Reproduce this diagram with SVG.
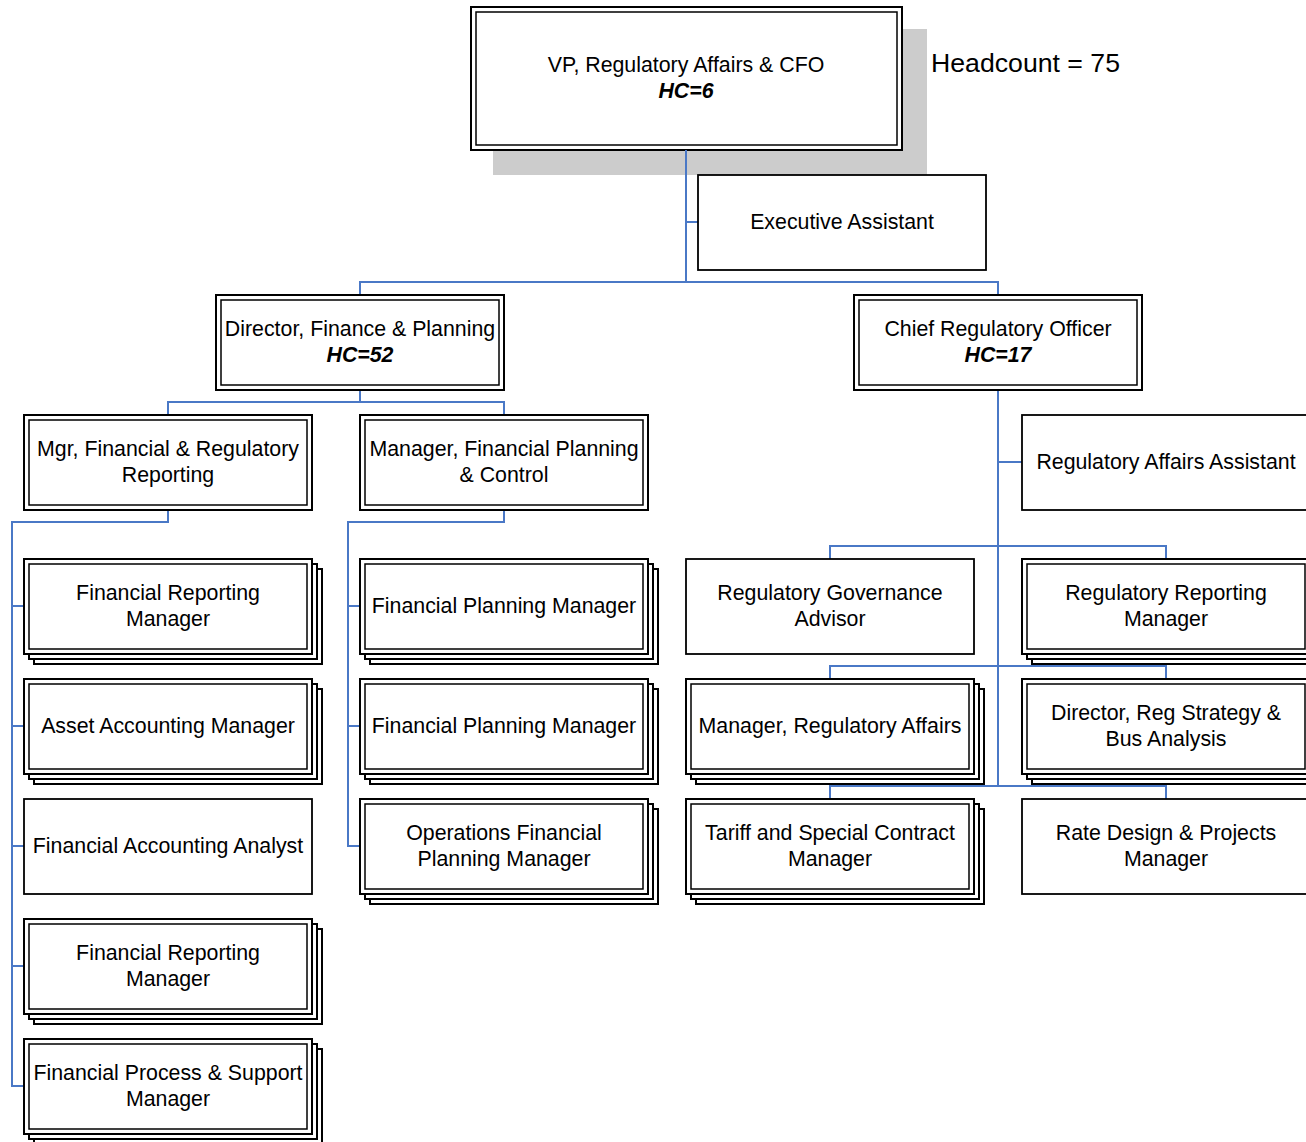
<svg xmlns="http://www.w3.org/2000/svg" xmlns:xlink="http://www.w3.org/1999/xlink" width="1306" height="1142" viewBox="0 0 1306 1142">
  <style>
    .bg { fill: #ffffff; }
    .box { fill: #ffffff; stroke: #000000; stroke-width: 2; }
    .inner { fill: none; stroke: #000000; stroke-width: 1.5; }
    .single { fill: #ffffff; stroke: #000000; stroke-width: 1.8; }
    .shadow { fill: #cccccc; }
    .ln { fill: none; stroke: #4a78c6; stroke-width: 2; }
    text { font-family: "Liberation Sans", Arial, sans-serif; font-size: 21.33px; fill: #000000; text-anchor: middle; }
    .hc { font-weight: bold; font-style: italic; }
    .big { font-size: 26.67px; text-anchor: start; }
  </style>
  <defs>
    <!-- double-bordered position box -->
    <g id="dbl">
      <rect class="box" x="0" y="0" width="288" height="95"/>
      <rect class="inner" x="5" y="5" width="278" height="85"/>
    </g>
    <!-- single-bordered position box -->
    <rect id="sgl" class="single" x="0" y="0" width="288" height="95"/>
    <!-- multiple incumbents: stacked double boxes -->
    <g id="stack">
      <rect class="box" x="10" y="10" width="288" height="95"/>
      <rect class="box" x="5" y="5" width="288" height="95"/>
      <use xlink:href="#dbl"/>
    </g>
  </defs>

  <rect class="bg" x="0" y="0" width="1306" height="1142"/>

  <g id="vp">
    <rect class="shadow" x="493" y="29" width="434" height="146"/>
    <rect class="box" x="471" y="7" width="431" height="143"/>
    <rect class="inner" x="476" y="12" width="421" height="133"/>
    <text x="686" y="71.5">VP, Regulatory Affairs &amp; CFO</text>
    <text class="hc" x="686" y="97.5">HC=6</text>
  </g>

  <text id="headcount" class="big" x="931" y="71.5">Headcount = 75</text>

  <g id="connectors">
    <path class="ln" d="M686 150 V282 M686 222 H698 M360 295 V282 H998 V295"/>
    <path class="ln" d="M360 390 V402 H168 V415 M360 402 H504 V415"/>
    <path class="ln" d="M168 510 V522 H12 V1086 H24 M12 606 H24 M12 726 H24 M12 846 H24 M12 966 H24"/>
    <path class="ln" d="M504 510 V522 H348 V846 H360 M348 606 H360 M348 726 H360"/>
    <path class="ln" d="M998 390 V786 M998 462 H1022"/>
    <path class="ln" d="M830 559 V546 H1166 V559 M830 679 V666 H1166 V679 M830 799 V786 H1166 V799"/>
  </g>

  <g id="exec-assistant">
    <rect class="single" x="698" y="175" width="288" height="95"/>
    <text x="842" y="228.5">Executive Assistant</text>
  </g>

  <g id="dir-finance">
    <use xlink:href="#dbl" x="216" y="295"/>
    <text x="360" y="335.5">Director, Finance &amp; Planning</text>
    <text class="hc" x="360" y="361.5">HC=52</text>
  </g>

  <g id="chief-reg">
    <use xlink:href="#dbl" x="854" y="295"/>
    <text x="998" y="335.5">Chief Regulatory Officer</text>
    <text class="hc" x="998" y="361.5">HC=17</text>
  </g>

  <g id="mgr-fin-reg-reporting">
    <use xlink:href="#dbl" x="24" y="415"/>
    <text x="168" y="455.5">Mgr, Financial &amp; Regulatory</text>
    <text x="168" y="481.5">Reporting</text>
  </g>

  <g id="mgr-fin-planning-control">
    <use xlink:href="#dbl" x="360" y="415"/>
    <text x="504" y="455.5">Manager, Financial Planning</text>
    <text x="504" y="481.5">&amp; Control</text>
  </g>

  <g id="fin-reporting-mgr-1">
    <use xlink:href="#stack" x="24" y="559"/>
    <text x="168" y="599.5">Financial Reporting</text>
    <text x="168" y="625.5">Manager</text>
  </g>

  <g id="asset-accounting-mgr">
    <use xlink:href="#stack" x="24" y="679"/>
    <text x="168" y="732.5">Asset Accounting Manager</text>
  </g>

  <g id="fin-accounting-analyst">
    <use xlink:href="#sgl" x="24" y="799"/>
    <text x="168" y="852.5">Financial Accounting Analyst</text>
  </g>

  <g id="fin-reporting-mgr-2">
    <use xlink:href="#stack" x="24" y="919"/>
    <text x="168" y="959.5">Financial Reporting</text>
    <text x="168" y="985.5">Manager</text>
  </g>

  <g id="fin-process-support-mgr">
    <use xlink:href="#stack" x="24" y="1039"/>
    <text x="168" y="1079.5">Financial Process &amp; Support</text>
    <text x="168" y="1105.5">Manager</text>
  </g>

  <g id="fin-planning-mgr-1">
    <use xlink:href="#stack" x="360" y="559"/>
    <text x="504" y="612.5">Financial Planning Manager</text>
  </g>

  <g id="fin-planning-mgr-2">
    <use xlink:href="#stack" x="360" y="679"/>
    <text x="504" y="732.5">Financial Planning Manager</text>
  </g>

  <g id="ops-fin-planning-mgr">
    <use xlink:href="#stack" x="360" y="799"/>
    <text x="504" y="839.5">Operations Financial</text>
    <text x="504" y="865.5">Planning Manager</text>
  </g>

  <g id="reg-affairs-assistant">
    <use xlink:href="#sgl" x="1022" y="415"/>
    <text x="1166" y="468.5">Regulatory Affairs Assistant</text>
  </g>

  <g id="reg-governance-advisor">
    <use xlink:href="#sgl" x="686" y="559"/>
    <text x="830" y="599.5">Regulatory Governance</text>
    <text x="830" y="625.5">Advisor</text>
  </g>

  <g id="reg-reporting-mgr">
    <use xlink:href="#stack" x="1022" y="559"/>
    <text x="1166" y="599.5">Regulatory Reporting</text>
    <text x="1166" y="625.5">Manager</text>
  </g>

  <g id="mgr-reg-affairs">
    <use xlink:href="#stack" x="686" y="679"/>
    <text x="830" y="732.5">Manager, Regulatory Affairs</text>
  </g>

  <g id="dir-reg-strategy">
    <use xlink:href="#stack" x="1022" y="679"/>
    <text x="1166" y="719.5">Director, Reg Strategy &amp;</text>
    <text x="1166" y="745.5">Bus Analysis</text>
  </g>

  <g id="tariff-contract-mgr">
    <use xlink:href="#stack" x="686" y="799"/>
    <text x="830" y="839.5">Tariff and Special Contract</text>
    <text x="830" y="865.5">Manager</text>
  </g>

  <g id="rate-design-mgr">
    <use xlink:href="#sgl" x="1022" y="799"/>
    <text x="1166" y="839.5">Rate Design &amp; Projects</text>
    <text x="1166" y="865.5">Manager</text>
  </g>
</svg>
